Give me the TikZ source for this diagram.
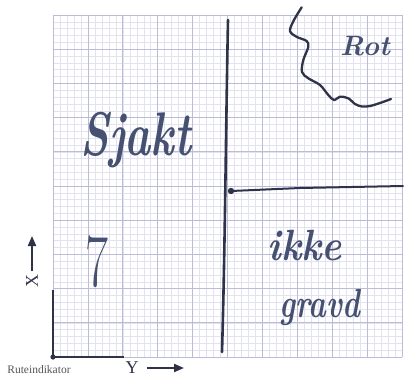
\documentclass[tikz,border=0pt]{standalone}
\usetikzlibrary{arrows.meta}
\usepackage{fontspec}
\newfontfamily\printfont{Liberation Serif}
\definecolor{penink}{HTML}{2E3348}
\definecolor{handink}{HTML}{465070}
\definecolor{gridminor}{HTML}{E2E2F0}
\definecolor{gridmajor}{HTML}{BCBCD8}
\definecolor{printgray}{HTML}{555555}

\begin{document}
\begin{tikzpicture}[x=1pt, y=-1pt,
    minorline/.style={draw=gridminor, line width=0.45pt},
    majorline/.style={draw=gridmajor, line width=0.8pt},
    pen/.style={draw=penink, line width=2.6pt, line cap=round, line join=round},
    hand/.style={text=handink, inner sep=0pt, font=\itshape},
    printlbl/.style={text=penink, inner sep=0pt, font=\printfont\fontsize{18}{18}\selectfont},
    axisarrow/.style={draw=penink, line width=2pt, -{Triangle[length=10pt, width=8pt]}}
  ]
  \fill[white] (0,0) rectangle (405,378);
  \useasboundingbox (0,0) rectangle (405,378);

  % paper grid
  \foreach \i in {0,...,50} {
    \draw[minorline] ({53+\i*6.98},15) -- ({53+\i*6.98},357);
    \draw[minorline] (53,{15+\i*6.84}) -- (402,{15+\i*6.84});
  }
  \foreach \i in {0,...,10} {
    \draw[majorline] ({53+\i*34.9},15) -- ({53+\i*34.9},357);
    \draw[majorline] (53,{15+\i*34.2}) -- (402,{15+\i*34.2});
  }

  % grid indicator
  \coordinate (corner) at (53,357);
  \coordinate (cornertop) at (53,290);
  \coordinate (cornerright) at (124,357);
  \draw[pen, line cap=butt] (cornertop) -- (corner) -- (cornerright);
  \fill[penink] (corner) circle (2.6);
  \node[text=printgray, inner sep=0pt, font=\printfont\fontsize{11.5}{11.5}\selectfont] (rute) at (39,370) {Ruteindikator};

  \node[printlbl] (ylbl) at (132,368) {Y};
  \coordinate (yend) at (184,368);
  \draw[axisarrow] ([xshift=8pt]ylbl.east) -- (yend);

  \node[printlbl, rotate=90] (xlbl) at (32,281) {X};
  \coordinate (xend) at (32,236);
  \draw[axisarrow] ([yshift=3pt]xlbl.east) -- (xend);

  % pen lines
  \coordinate (origin) at (231,191);
  \draw[pen] (228,20) .. controls (226,120) and (225,250) .. (222,352);
  \draw[pen, line width=2pt] (origin) -- (300,188) -- (403,186);
  \fill[penink] (origin) circle (3.2);
  \draw[pen, line width=2.3pt] plot[smooth, tension=0.55] coordinates {
    (301.7,7.3) (294,20) (290,31) (297,37) (306.7,41) (308.3,47) (303.3,60)
    (302,72) (308.3,78.3) (320,85) (328.3,95) (334,100) (340,96.7) (348.3,98.3)
    (355,104) (362,106.5) (370,106) (380,103) (391,99)};

  % handwritten labels
  \node[hand, font=\bfseries\itshape\fontsize{44}{44}\selectfont, yscale=1.4] (sjakt) at (136,140) {Sjakt};
  \node[hand, font=\bfseries\itshape\fontsize{28}{28}\selectfont] (rot) at (365,46) {Rot};
  \node[hand, font=\bfseries\itshape\fontsize{38}{38}\selectfont, yscale=1.15] (ikke) at (305,245) {ikke};
  \node[hand, font=\bfseries\itshape\fontsize{30}{30}\selectfont, yscale=1.35] (gravd) at (320,308) {gravd};
  \node[hand, font=\fontsize{50}{50}\selectfont, yscale=1.5] (seven) at (97,262) {7};
\end{tikzpicture}
\end{document}
